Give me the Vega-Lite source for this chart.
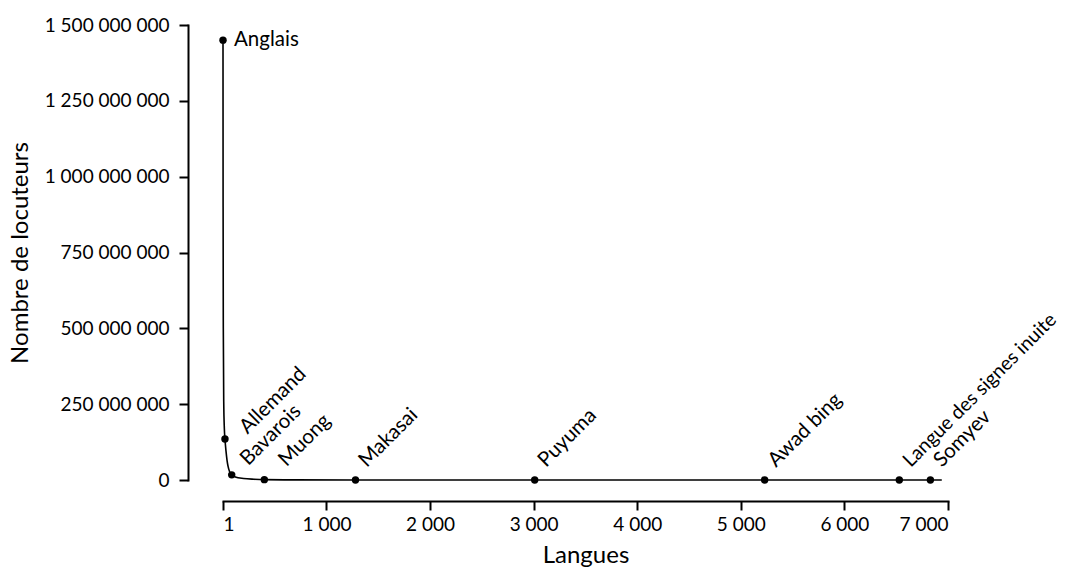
{
  "$schema": "https://vega.github.io/schema/vega-lite/v6.json",
  "width": 725,
  "height": 455,
  "autosize": "none",
  "padding": {"left": 223, "top": 25, "right": 122, "bottom": 92},
  "background": "white",
  "datasets": {
    "courbe": [
      {"rang": 1, "locuteurs": 1450000000},
      {"rang": 2, "locuteurs": 900000000},
      {"rang": 4, "locuteurs": 500000000},
      {"rang": 8, "locuteurs": 260000000},
      {"rang": 14, "locuteurs": 170000000},
      {"rang": 20, "locuteurs": 135000000},
      {"rang": 30, "locuteurs": 95000000},
      {"rang": 40, "locuteurs": 65000000},
      {"rang": 50, "locuteurs": 45000000},
      {"rang": 65, "locuteurs": 27000000},
      {"rang": 85, "locuteurs": 17000000},
      {"rang": 120, "locuteurs": 10000000},
      {"rang": 200, "locuteurs": 5000000},
      {"rang": 300, "locuteurs": 2500000},
      {"rang": 400, "locuteurs": 1200000},
      {"rang": 700, "locuteurs": 400000},
      {"rang": 1280, "locuteurs": 80000},
      {"rang": 2000, "locuteurs": 30000},
      {"rang": 3010, "locuteurs": 10000},
      {"rang": 4000, "locuteurs": 4000},
      {"rang": 5230, "locuteurs": 1000},
      {"rang": 6000, "locuteurs": 300},
      {"rang": 6530, "locuteurs": 80},
      {"rang": 6830, "locuteurs": 20},
      {"rang": 6940, "locuteurs": 5}
    ],
    "langues": [
      {"nom": "Anglais", "rang": 1, "locuteurs": 1450000000},
      {"nom": "Allemand", "rang": 20, "locuteurs": 135000000},
      {"nom": "Bavarois", "rang": 85, "locuteurs": 17000000},
      {"nom": "Muong", "rang": 400, "locuteurs": 1200000},
      {"nom": "Makasai", "rang": 1280, "locuteurs": 80000},
      {"nom": "Puyuma", "rang": 3010, "locuteurs": 10000},
      {"nom": "Awad bing", "rang": 5230, "locuteurs": 1000},
      {"nom": "Langue des signes inuite", "rang": 6530, "locuteurs": 80},
      {"nom": "Somyev", "rang": 6830, "locuteurs": 20}
    ]
  },
  "encoding": {
    "x": {
      "field": "rang",
      "type": "quantitative",
      "scale": {"domain": [1, 7000], "nice": false, "zero": false},
      "axis": {
        "title": "Langues",
        "values": [1, 1000, 2000, 3000, 4000, 5000, 6000, 7000],
        "format": ",d",
        "offset": 21,
        "grid": false,
        "tickSize": 9,
        "labelPadding": 5,
        "titlePadding": 9
      }
    },
    "y": {
      "field": "locuteurs",
      "type": "quantitative",
      "scale": {"domain": [0, 1500000000], "nice": false},
      "axis": {
        "title": "Nombre de locuteurs",
        "values": [0, 250000000, 500000000, 750000000, 1000000000, 1250000000, 1500000000],
        "format": ",d",
        "offset": 35,
        "grid": false,
        "tickSize": 9,
        "labelPadding": 10,
        "titlePadding": 12
      }
    }
  },
  "layer": [
    {
      "data": {"name": "courbe"},
      "mark": {"type": "line", "color": "black", "strokeWidth": 1.6, "interpolate": "monotone"}
    },
    {
      "data": {"name": "langues"},
      "mark": {"type": "point", "filled": true, "color": "black", "size": 55, "opacity": 1}
    },
    {
      "data": {"name": "langues"},
      "transform": [{"filter": "datum.nom === 'Anglais'"}],
      "mark": {"type": "text", "align": "left", "baseline": "middle", "dx": 11, "dy": 0, "fontSize": 20.5, "font": "Lato", "color": "black"},
      "encoding": {"text": {"field": "nom"}}
    },
    {
      "data": {"name": "langues"},
      "transform": [{"filter": "datum.nom === 'Allemand'"}],
      "mark": {"type": "text", "align": "left", "baseline": "alphabetic", "angle": -45, "dx": 19, "dy": 13, "fontSize": 20.5, "font": "Lato", "color": "black"},
      "encoding": {"text": {"field": "nom"}}
    },
    {
      "data": {"name": "langues"},
      "transform": [{"filter": "datum.nom === 'Bavarois'"}],
      "mark": {"type": "text", "align": "left", "baseline": "alphabetic", "angle": -45, "dx": 17.7, "dy": 5.6, "fontSize": 20.5, "font": "Lato", "color": "black"},
      "encoding": {"text": {"field": "nom"}}
    },
    {
      "data": {"name": "langues"},
      "transform": [{"filter": "datum.nom === 'Muong'"}],
      "mark": {"type": "text", "align": "left", "baseline": "alphabetic", "angle": -45, "dx": 24.3, "dy": 6.9, "fontSize": 20.5, "font": "Lato", "color": "black"},
      "encoding": {"text": {"field": "nom"}}
    },
    {
      "data": {"name": "langues"},
      "transform": [{"filter": "indexof(['Makasai','Puyuma','Awad bing','Somyev'], datum.nom) >= 0"}],
      "mark": {"type": "text", "align": "left", "baseline": "alphabetic", "angle": -45, "dx": 16.5, "dy": -0.5, "fontSize": 20.5, "font": "Lato", "color": "black"},
      "encoding": {"text": {"field": "nom"}}
    },
    {
      "data": {"name": "langues"},
      "transform": [{"filter": "datum.nom === 'Langue des signes inuite'"}],
      "mark": {"type": "text", "align": "left", "baseline": "alphabetic", "angle": -45, "dx": 16.5, "dy": -0.5, "fontSize": 19.5, "font": "Lato", "color": "black"},
      "encoding": {"text": {"field": "nom"}}
    }
  ],
  "config": {
    "locale": {
      "number": {"decimal": ",", "thousands": " ", "grouping": [3], "currency": ["", " €"]}
    },
    "view": {"stroke": null},
    "font": "Lato",
    "axis": {
      "labelFont": "Lato",
      "titleFont": "Lato",
      "labelFontSize": 19,
      "titleFontSize": 24,
      "titleFontWeight": "normal",
      "labelColor": "black",
      "titleColor": "black",
      "domainColor": "black",
      "tickColor": "black",
      "domainWidth": 2,
      "tickWidth": 2,
      "domainCap": "square"
    }
  }
}
